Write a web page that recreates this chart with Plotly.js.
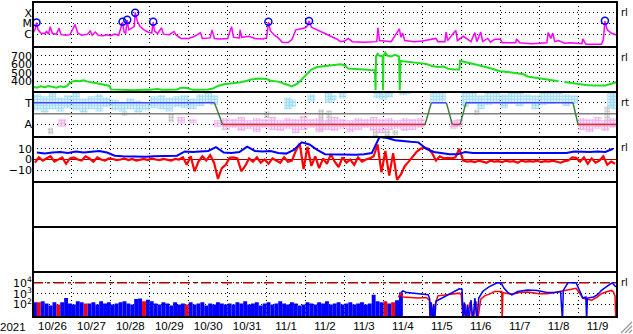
<!DOCTYPE html>
<html><head><meta charset="utf-8">
<script src="https://cdn.plot.ly/plotly-3.0.1.min.js"></script>
<style>html,body{margin:0;padding:0;background:#fff}#chart{width:633px;height:334px}</style>
</head><body><div id="chart"></div>
<script>
// time unit: days since 2021-10-26 00:00 UT
const dayLabels = ['10/26','10/27','10/28','10/29','10/30','10/31','11/1','11/2','11/3','11/4','11/5','11/6','11/7','11/8','11/9'];
const yearLabel = '2021';

// Panel 1: X-ray flux (log10 W/m2)
const xrayT = [0.00,0.05,0.09,0.13,0.2,0.3,0.35,0.4,0.44,0.5,0.6,0.67,0.72,0.85,0.95,1.08,1.15,1.25,1.4,1.47,1.52,1.6,1.68,1.8,1.9,2.0,2.1,2.2,2.3,2.34,2.38,2.42,2.46,2.52,2.6,2.625,2.68,2.75,2.85,2.95,3.05,3.087,3.12,3.2,3.3,3.35,3.5,3.62,3.68,3.8,4.0,4.15,4.3,4.35,4.55,4.6,4.66,4.8,5.0,5.1,5.15,5.3,5.32,5.36,5.55,5.7,5.9,6.0,6.046,6.1,6.2,6.3,6.4,6.55,6.65,6.75,6.9,7.0,7.05,7.09,7.15,7.3,7.5,7.65,7.8,7.9,8.0,8.1,8.2,8.5,8.83,8.86,8.9,9.2,9.41,9.45,9.49,9.55,9.8,10.0,10.35,10.4,10.58,10.61,10.65,10.86,10.9,11.05,11.15,11.25,11.35,11.4,11.5,11.55,11.68,11.75,11.85,12.0,12.05,12.4,12.42,12.5,12.8,13.0,13.2,13.23,13.3,13.35,13.4,13.5,13.65,13.8,14.1,14.12,14.2,14.6,14.65,14.69,14.75,14.85,15.0];
const xrayLog = [-5.85,-5.6,-4.93,-5.6,-5.9,-5.95,-5.75,-6.0,-5.3,-5.95,-6.0,-5.45,-6.05,-6.1,-6.05,-5.1,-5.9,-6.1,-6.0,-5.7,-6.1,-5.8,-6.1,-6.15,-6.05,-6.15,-6.0,-6.1,-4.88,-5.8,-5.9,-4.68,-5.6,-5.5,-5.3,-3.97,-4.8,-5.3,-5.6,-5.8,-5.9,-4.88,-5.7,-5.95,-5.4,-6.0,-6.05,-5.75,-6.1,-6.4,-6.4,-6.2,-5.85,-6.4,-6.35,-5.6,-6.4,-6.45,-6.4,-5.3,-6.3,-6.35,-5.6,-6.3,-6.2,-6.4,-6.45,-6.35,-4.88,-5.7,-6.1,-6.35,-6.75,-6.78,-6.5,-5.6,-5.5,-5.4,-5.2,-4.78,-5.35,-5.6,-5.9,-6.15,-6.45,-6.7,-6.65,-6.4,-6.7,-6.75,-6.7,-5.4,-6.6,-6.7,-5.5,-6.3,-5.9,-6.6,-6.7,-6.65,-6.4,-6.7,-6.7,-5.8,-6.6,-5.65,-6.6,-6.2,-6.45,-6.7,-5.85,-6.7,-5.8,-6.7,-6.4,-6.75,-6.5,-6.45,-6.8,-6.8,-6.45,-6.8,-6.9,-6.85,-6.8,-5.85,-6.4,-5.9,-6.7,-6.6,-6.85,-6.8,-6.9,-6.45,-6.95,-6.95,-6.5,-4.78,-5.6,-5.9,-6.1];
const flareT = [0.09,2.30,2.42,2.625,3.087,6.046,7.09,14.69];
const flareFlux = [1.2e-5,1.4e-5,2.2e-5,1.0e-4,1.4e-5,1.4e-5,1.7e-5,1.8e-5];
const xrayTickVals = [1e-4,1e-5,1e-6];
const xrayTickText = ['X','M','C'];

// Panel 2: solar wind speed (km/s)
const swT = [0.0,0.1,0.2,0.3,0.4,0.5,0.6,0.7,0.8,0.88,0.92,1.0,1.1,1.2,1.3,1.4,1.5,1.6,1.7,1.8,1.9,1.97,2.0,2.2,2.4,2.6,2.8,3.0,3.2,3.3,3.5,3.7,3.8,3.95,4.1,4.3,4.5,4.62,4.75,4.9,5.1,5.3,5.5,5.6,5.8,6.0,6.1,6.3,6.5,6.65,6.8,6.95,7.05,7.15,7.3,7.5,7.7,7.9,8.0,8.1,8.3,8.5,8.7,8.78,8.8,8.81,8.85,8.9,8.98,8.99,9.0,9.05,9.1,9.2,9.3,9.4,9.42,9.44,9.5,9.6,9.75,9.85,9.95,10.1,10.25,10.4,10.55,10.65,10.8,10.95,10.97,11.1,11.25,11.4,11.55,11.7,11.85,12.0,12.2,12.4,12.6,12.7,12.9,13.1,13.3,13.5,13.55,13.65,13.8,14.0,14.2,14.4,14.6,14.7,14.85,15.0];
const swV = [340,330,345,335,350,340,330,345,335,350,375,400,410,405,415,400,395,385,375,365,355,350,310,305,305,300,305,305,315,305,305,310,330,325,305,305,310,320,350,370,380,390,410,425,435,430,410,400,370,345,380,450,500,540,570,580,595,600,590,550,545,540,530,530,300,690,720,700,690,300,700,735,700,690,710,690,300,640,635,630,625,620,615,605,580,570,575,550,540,540,640,630,610,595,580,560,540,520,510,495,485,460,445,430,420,405,null,395,385,370,360,355,350,355,375,395];
const swTicks = [400,500,600,700];

// Panel 3: sector (T = 1, A = -1) and angle cloud
const secT = [0,4.66,4.87,10.07,10.23,10.62,10.77,10.97,11.12,13.87,14.0,15];
const secV = [1,1,-1,-1,1,1,-1,-1,1,1,-1,-1];
const sectorMid = 0;
const cyT  = [0.1,0.3,0.5,0.7,0.9,1.1,1.3,1.5,1.7,1.9,2.1,2.3,2.5,2.7,2.9,3.1,3.3,3.5,3.7,3.9,4.1,4.3,4.5,4.65,6.55,6.65,7.15,7.6,7.7,7.95,8.85,9.0,9.15,9.5,9.6,10.3,10.5,11.1,11.3,11.5,11.7,11.9,12.1,12.3,12.5,12.7,12.9,13.1,13.3,13.5,13.7,13.9,14.85,14.95];
const cyLo = [0.3,0.1,0.4,0.2,0.5,0.3,0.1,0.4,0.2,0.6,0.3,0.2,0.4,0.1,0.3,0.5,0.4,0.2,0.6,0.5,0.4,0.7,1.0,0.8,0.4,0.6,1.1,1.0,1.2,1.4,1.4,1.3,1.5,1.7,1.8,1.0,1.1,0.6,0.9,0.4,0.8,1.0,0.5,0.9,0.7,1.0,0.4,0.8,0.9,1.1,0.7,0.9,0.5,0.4];
const cyHi = [1.8,1.6,1.9,1.5,1.7,1.9,1.4,1.6,1.8,1.5,1.3,1.1,1.4,1.2,1.0,1.6,1.7,1.5,1.6,1.7,1.4,1.8,1.9,1.7,1.5,1.3,1.8,1.9,1.7,1.9,2.0,1.9,2.0,2.0,2.0,2.0,1.9,1.9,2.0,1.7,2.0,1.9,1.8,2.0,1.9,1.8,1.7,2.0,1.9,2.0,1.8,1.7,2.0,1.9];
const pkT  = [0.75,3.8,4.1,4.75,4.95,5.15,5.35,5.55,5.75,5.95,6.15,6.35,6.55,6.75,6.95,7.15,7.35,7.55,7.75,7.95,8.15,8.35,8.55,8.75,8.95,9.15,9.35,9.55,9.75,9.95,10.8,10.95,14.1,14.3,14.5,14.7,14.9];
const pkLo = [-1.2,-0.9,-0.9,-1.2,-1.5,-1.3,-1.6,-1.4,-1.7,-1.3,-1.5,-1.6,-1.4,-1.8,-1.5,-1.3,-1.7,-1.5,-1.6,-1.4,-1.7,-1.5,-1.3,-1.6,-1.8,-1.5,-1.4,-1.6,-1.5,-1.3,-1.4,-1.2,-1.5,-1.7,-1.4,-1.6,-1.3];
const pkHi = [-0.5,-0.3,-0.5,-0.6,-0.4,-0.5,-0.3,-0.6,-0.4,-0.5,-0.3,-0.6,-0.4,-0.5,-0.2,-0.5,-0.4,-0.6,-0.3,-0.5,-0.6,-0.4,-0.5,-0.3,-0.5,-0.4,-0.6,-0.4,-0.5,-0.4,-0.6,-0.5,-0.4,-0.5,-0.3,-0.6,-0.4];
const gyT  = [0.45,2.35,3.55,6.0,7.4,7.6,8.8,9.1,9.3,11.4,14.75];
const gyLo = [-1.9,-0.2,-0.8,-0.4,-1.7,-1.0,-2.1,-2.1,-2.0,-0.1,-0.8];
const gyHi = [-1.3,0.2,0.0,0.2,0.4,0.3,-1.5,-1.4,-1.5,0.4,0.7];

// Panel 4: IMF Bt (0.2-day steps from 0.1) and Bz (0.1-day steps from 0.05), nT
const btStart = 0.1, btStep = 0.2;
const btV = [6.5,5.5,6.5,7,6,7.5,6.5,7,8,6.5, 3.5,3,2.8,3,2.5,3,3.2,2.8,3.5, 7.5,7,7.5,8,11.5, 6.5,6,7,12,8,7.5,8,6,5.5, 9,16,14,9, 5,4.8,4.5,4.7,4.5,4.8,6, 21,20,18,17,16.5,16, 10,7,6,5,4.8, 7,6,6,5.8,6,6.2,6,5.8,6,6,6.2,6,5.8,6,7.5, 7,7,7.5,7,10];
const bzStart = 0.05, bzStep = 0.1;
const bzV = [-3,2,-1,1,3,-2,0,2,-4,1,2,0,-1,3,1,-2,2,0,-1,1,
  0.5,-0.5,0,1,-0.5,0.5,-1,0,0.5,-0.5,1,0,-0.5,0.5,0,-1,0.5,0,
  2,-5,3,-11,-2, 3,-1,4,-3, -18,-8,-5, 1.5,2,1, -11,-6,
  1,-2,2,-3,0,-4,1,-1,-3,2,-2,-1, 8,15,-9,12,
  -6,3,-8,1,-4,5,-2,-7,2,-3,0,-5,2,-2,0, 1,3,
  14,-12,8,-15,6,-19,-14, -6,-2,3,7,10, 11,10, 6,-1,3,1, 1.5,1,2,10,
  -1,-2,-1.5,-2.5,-1,-2,-3,-1,-2,-1.5,-2.5,-1,-2,-1.5,-3,-1,-2,-1.5,-2,-1,-2.5,-1.5,-2,-1,-2,-3,-1.5,-1,
  2,1.5, -2,2,-4,1,-3,-1,3,-5,-2,-4];

// Panel 5 / 6 tick values
const p5Ticks = [0,-100];
const p6Ticks = [20,40,60];

// Panel 7: particle flux (log10), filled part at 0.1-day steps from 0.05
const pfStart = 0.05, pfStep = 0.1;
const pBlueLog = [2.2,null,2.3,2.1,1.9,2.2,null,2.2,2.6,2.1,2.0,2.3,2.2,null,2.1,2.2,2.0,2.3,2.1,2.2,2.0,2.1,2.2,2.3,2.1,2.0,
  2.5,2.55,null,2.45, 2.3,2.1,2.0,2.2,2.1,1.9,2.2,2.0, 2.1,null,2.2,2.0,2.1,2.2,1.9,2.1,2.0,2.2,2.1,2.0,
  2.1,2.0,2.2,2.1,2.3,2.0,2.1,2.2,1.9,2.1,2.2,2.0,2.1,2.3,2.1,2.0,2.2,2.1,1.9,2.0,2.2,2.1,2.0,2.2,2.1,2.3,2.0,2.1,2.2,2.0,2.1,2.2,2.0,2.1,2.2,2.0,2.1,2.9,
  2.3,2.2,null,2.1,null,2.4,3.1];
const redBarT = [0.15,0.65,1.35,2.85,3.95,9.05,9.25];
const redBarLog = [2.2,2.0,2.1,2.3,2.0,2.3,2.2];
const blueLineT = [9.45,9.5,9.6,9.75,9.9,10.05,10.15,10.19,10.2,10.23,10.26,10.29,10.32,10.35,10.45,10.55,10.65,10.75,10.85,10.95,11.02,11.05,11.08,11.12,11.16,11.2,11.25,11.3,11.35,11.4,11.45,11.55,11.7,11.85,11.92,12.02,12.1,12.2,12.3,12.45,12.7,12.95,13.2,13.4,13.55,13.6,13.62,13.74,13.95,14.05,14.12,14.2,14.22,14.24,14.4,14.5,14.6,14.75,14.88,14.95,15.0];
const blueLineLog = [3.1,3.25,3.1,3.05,3.0,2.95,2.9,2.5,0.5,2.2,0.5,2.0,0.5,2.3,2.5,2.7,2.9,3.1,3.3,3.45,3.4,0.5,2.2,0.5,2.0,0.5,2.4,0.5,2.6,0.5,2.6,3.2,3.6,3.9,4.0,4.0,3.5,3.1,2.9,3.2,3.35,3.3,3.1,3.1,3.2,0.5,3.3,4.0,4.0,3.2,2.6,2.7,0.5,2.6,2.7,2.9,3.3,3.7,4.0,3.7,3.6];
const redLineT = [9.38,9.45,9.5,9.7,9.9,10.1,10.18,10.2,10.24,10.28,10.33,10.4,10.6,10.8,10.95,11.0,11.05,11.1,11.15,11.22,11.3,11.38,11.42,11.5,11.6,11.75,11.85,12.04,12.05,12.07,12.3,12.5,12.7,13.0,13.2,13.4,13.55,13.75,13.95,14.05,14.12,14.2,14.35,14.5,14.6,14.75,14.85,14.9,14.95,14.97,15.0];
const redLineLog = [2.7,3.0,2.7,2.65,2.6,2.65,2.4,0.5,1.8,0.5,2.0,2.8,2.9,3.0,3.05,2.9,0.5,2.0,0.5,2.2,0.5,2.3,0.5,2.5,2.8,3.0,3.2,3.2,0.5,3.1,2.95,3.1,3.15,3.0,3.0,3.1,3.2,3.4,3.5,3.0,2.6,2.5,2.4,2.7,3.0,3.2,3.3,3.2,2.8,0.5,0.5];
const protonThreshold = 1e4;
const p7TickVals = [1e2,1e3,1e4];
const p7TickText = ['10<sup>2</sup>','10<sup>3</sup>','10<sup>4</sup>'];

// ---------- build ----------
const pow10 = a => a.map(v => v === null ? null : Math.pow(10, v));
const grid = (start, step, n) => Array.from({length:n}, (_, i) => +(start + step*i).toFixed(3));
const NP = 7;
const dom = k => [(NP-1-k)/NP, (NP-k)/NP];

function segs(T, V, test){
  const x = [], y = [];
  for (let i = 0; i < T.length-1; i++){
    if (test(V[i], V[i+1])){ x.push(T[i], T[i+1], null); y.push(V[i], V[i+1], null); }
  }
  return {x, y};
}
const segT = segs(secT, secV, (a,b) => a===1 && b===1);
const segA = segs(secT, secV, (a,b) => a===-1 && b===-1);
const segX = segs(secT, secV, (a,b) => a!==b);

const speckle = (c) => ({color:c, line:{width:0}, pattern:{shape:'.', size:3, solidity:0.7, fgcolor:c, bgcolor:'rgba(255,255,255,0)', fillmode:'replace'}});

const traces = [
  {x: xrayT, y: pow10(xrayLog), yaxis:'y', mode:'lines', line:{color:'#ff00ff', width:1.5}},
  {x: flareT, y: flareFlux, yaxis:'y', mode:'markers', marker:{symbol:'circle-open', size:7, color:'#0000ff', line:{width:1.5}}},
  {x: swT, y: swV, yaxis:'y2', mode:'lines', line:{color:'#1ee01e', width:2}, connectgaps:false},
  {type:'bar', x: gyT, base: gyLo, y: gyHi.map((h,i)=>h-gyLo[i]), width:0.14, yaxis:'y3', marker:speckle('#c4c4c4')},
  {type:'bar', x: pkT, base: pkLo, y: pkHi.map((h,i)=>h-pkLo[i]), width:0.2, yaxis:'y3', marker:speckle('#f0aeec')},
  {type:'bar', x: cyT, base: cyLo, y: cyHi.map((h,i)=>h-cyLo[i]), width:0.2, yaxis:'y3', marker:speckle('#9edcf5')},
  {x: [0,15], y: [sectorMid, sectorMid], yaxis:'y3', mode:'lines', line:{color:'#808080', width:1.5}},
  {x: segX.x, y: segX.y, yaxis:'y3', mode:'lines', line:{color:'#3f7f3f', width:1.5}},
  {x: segT.x, y: segT.y, yaxis:'y3', mode:'lines', line:{color:'#4444ff', width:1.5}},
  {x: segA.x, y: segA.y, yaxis:'y3', mode:'lines', line:{color:'#d03030', width:1.5}},
  {x: grid(bzStart, bzStep, bzV.length), y: bzV, yaxis:'y4', mode:'lines', line:{color:'#ff0000', width:2.2}},
  {x: grid(btStart, btStep, btV.length), y: btV, yaxis:'y4', mode:'lines', line:{color:'#0000ff', width:2}},
  {type:'bar', x: redBarT, y: pow10(redBarLog), width:0.1, yaxis:'y7', marker:{color:'#ff0000', line:{width:0}}},
  {type:'bar', x: grid(pfStart, pfStep, pBlueLog.length), y: pow10(pBlueLog), width:0.1, yaxis:'y7', marker:{color:'#0000ff', line:{width:0}}},
  {x: [0,15], y: [protonThreshold, protonThreshold], yaxis:'y7', mode:'lines', line:{color:'#b00000', width:1.5, dash:'10px,4px,3px,4px'}},
  {x: redLineT, y: pow10(redLineLog), yaxis:'y7', mode:'lines', line:{color:'#ff0000', width:1.5}},
  {x: blueLineT, y: pow10(blueLineLog), yaxis:'y7', mode:'lines', line:{color:'#0000ff', width:1.5}}
];
traces.forEach(t => { t.xaxis = 'x'; t.showlegend = false; t.hoverinfo = 'skip'; });

const yFont = {family:'DejaVu Sans', size:11, color:'#000'};
const yBase = () => ({anchor:'x', showgrid:true, gridcolor:'#000', griddash:'1px,3px', gridwidth:1,
  zeroline:false, showline:false, ticks:'', tickfont:yFont, automargin:false, fixedrange:true, tickmode:'array'});

const layout = {
  width:633, height:334,
  margin:{l:33, r:16, t:2, b:17, pad:0},
  paper_bgcolor:'#fff', plot_bgcolor:'#fff',
  barmode:'overlay', showlegend:false, hovermode:false,
  xaxis:{domain:[0,1], range:[0,15], anchor:'y7', tickmode:'array',
    tickvals: dayLabels.map((_,i)=>i+0.5), ticktext: dayLabels, ticks:'', showgrid:false, zeroline:false, showline:false,
    tickfont:{family:'Liberation Sans', size:11.5, color:'#000'}, automargin:false, fixedrange:true,
    minor:{tickmode:'array', tickvals: dayLabels.slice(1).map((_,i)=>i+1), showgrid:true, gridcolor:'#000', griddash:'1px,3px', gridwidth:1, ticks:''}},
  yaxis:  Object.assign(yBase(), {domain:dom(0), type:'log', range:[-7.2,-3.0], tickvals:xrayTickVals, ticktext:xrayTickText}),
  yaxis2: Object.assign(yBase(), {domain:dom(1), range:[280,800], tickvals:swTicks}),
  yaxis3: Object.assign(yBase(), {domain:dom(2), range:[-2.15,2.0], tickvals:[1,-1], ticktext:['T','A']}),
  yaxis4: Object.assign(yBase(), {domain:dom(3), range:[-21,21], tickvals:[10,0,-10], zeroline:true, zerolinecolor:'#a00000', zerolinewidth:1.5}),
  yaxis5: Object.assign(yBase(), {domain:dom(4), range:[-200,100], tickvals:p5Ticks, zeroline:true, zerolinecolor:'#a00000', zerolinewidth:1.5}),
  yaxis6: Object.assign(yBase(), {domain:dom(5), range:[-1.5,80], tickvals:p6Ticks}),
  yaxis7: Object.assign(yBase(), {domain:dom(6), type:'log', range:[0.85,5.0], tickvals:p7TickVals, ticktext:p7TickText}),
  shapes: [], annotations: []
};
for (let k = 0; k < NP; k++){
  const d = dom(k);
  layout.shapes.push({type:'rect', xref:'paper', yref:'paper', x0:0, x1:1, y0:d[0], y1:d[1], line:{color:'#000', width:2}, layer:'above'});
}
// resize grip (decoration)
const px = x => (x-33)/584, py = y => (317-y)/315;
[[621,333,632,322],[625,333,632,326],[629,333,632,330]].forEach(s => {
  layout.shapes.push({type:'line', xref:'paper', yref:'paper', x0:px(s[0]), y0:py(s[1]), x1:px(s[2]), y1:py(s[3]), line:{color:'#9a9a9a', width:1.2}});
});
layout.annotations.push({text:yearLabel, xref:'paper', yref:'paper', x:0, y:0, xanchor:'right', yanchor:'top', xshift:-5, yshift:-2, showarrow:false, font:{family:'Liberation Sans', size:11.5, color:'#000'}});
[[0,'rl'],[1,'rl'],[2,'rt'],[3,'rl'],[6,'rl']].forEach(([k,t]) => {
  layout.annotations.push({text:t, xref:'paper', yref:'paper', x:1, y:dom(k)[1], xanchor:'left', yanchor:'top', xshift:2, yshift:-3, showarrow:false, font:{family:'DejaVu Sans', size:10, color:'#000'}});
});

Plotly.newPlot('chart', traces, layout, {staticPlot:true, displayModeBar:false});
</script></body></html>
